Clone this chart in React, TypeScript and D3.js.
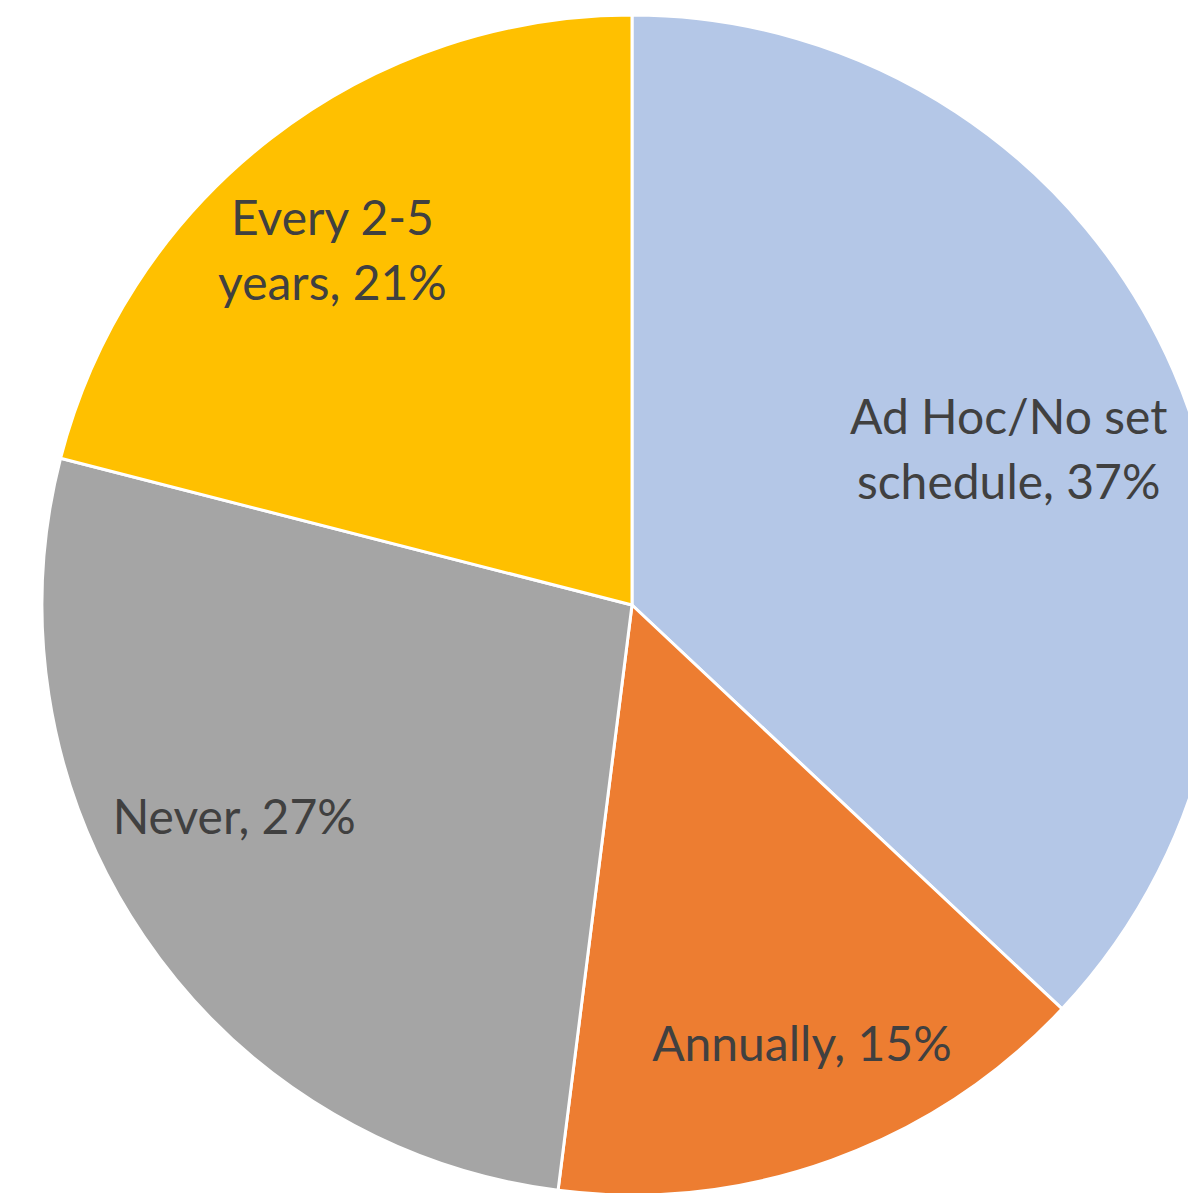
import React from "react";
import * as d3 from "d3";

const categories = ["Ad Hoc/No set schedule", "Annually", "Never", "Every 2-5 years"];
const values = [37, 15, 27, 21];
const colors = ["#B4C7E7", "#ED7D31", "#A5A5A5", "#FFC000"];
const labelLines = [
  ["Ad Hoc/No set", "schedule, 37%"],
  ["Annually, 15%"],
  ["Never, 27%"],
  ["Every 2-5", "years, 21%"],
];

const W = 1188;
const H = 1193;
const cx = 632;
const cy = 605;
const R = 590;

// label placement: [angle offset (deg), radius fraction]
const labelAdjust = [
  [1.1, 0.69],
  [-1.3, 0.8],
  [6.0, 0.765],
  [-2.5, 0.785],
];

export default function App() {
  const data = categories.map((c, i) => ({ c, v: values[i], i }));
  const pie = d3.pie<any>().value((d) => d.v).sort(null);
  const arcs = pie(data);
  const arc = d3.arc<any>().innerRadius(0).outerRadius(R);
  const fontSize = 48;
  const lineH = 65;
  return (
    <svg width={W} height={H} style={{ position: "absolute", left: 0, top: 0 }}>
      <rect width={W} height={H} fill="#ffffff" />
      <g transform={`translate(${cx},${cy})`}>
        {arcs.map((a, i) => (
          <path key={i} d={arc(a) || ""} fill={colors[i]} stroke="#ffffff" strokeWidth={3} strokeLinejoin="round" />
        ))}
        {arcs.map((a, i) => {
          const mid = (a.startAngle + a.endAngle) / 2 + (labelAdjust[i][0] * Math.PI) / 180;
          const r = R * labelAdjust[i][1];
          const x = r * Math.sin(mid);
          const y = -r * Math.cos(mid);
          const lines = labelLines[i];
          const y0 = y - ((lines.length - 1) * lineH) / 2;
          return (
            <text key={"t" + i} x={x} textAnchor="middle" fontFamily="Lato, 'Open Sans', sans-serif" fontSize={fontSize} fill="#404040">
              {lines.map((l, j) => (
                <tspan key={j} x={x} y={y0 + j * lineH} dy="0.33em">{l}</tspan>
              ))}
            </text>
          );
        })}
      </g>
    </svg>
  );
}
